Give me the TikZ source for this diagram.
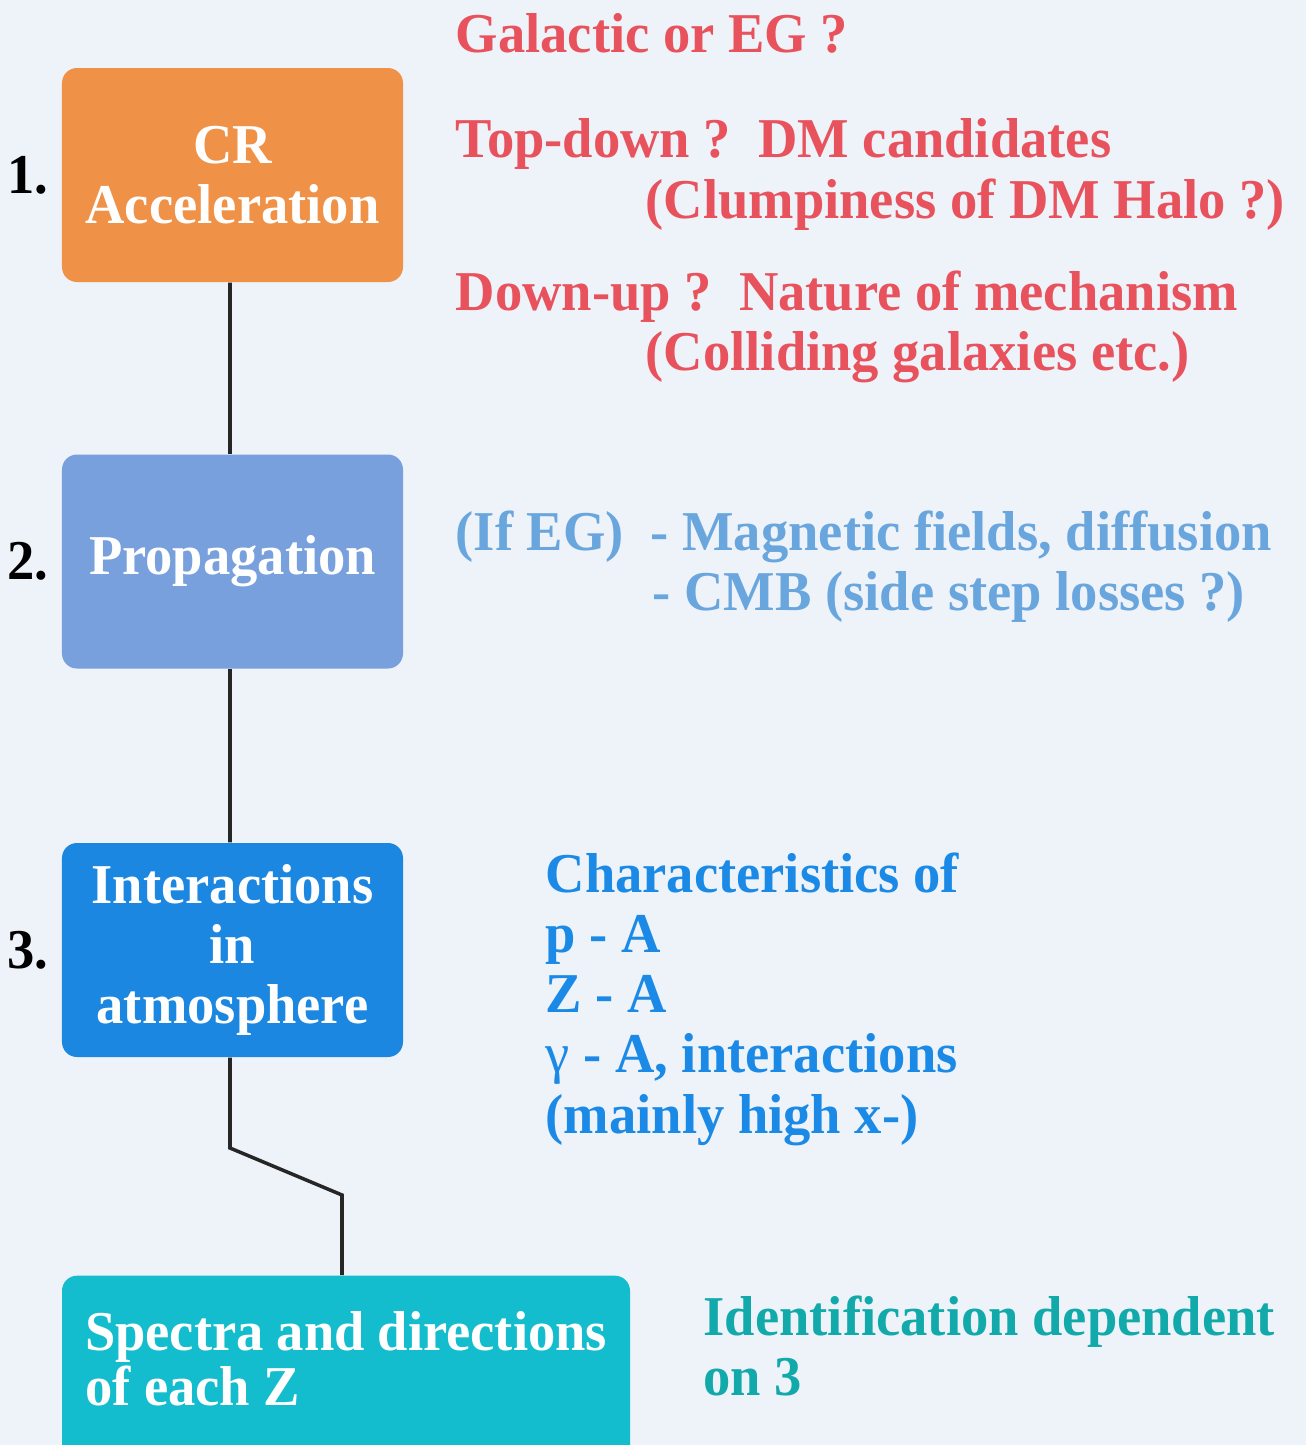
\documentclass[tikz,border=0pt]{standalone}
\usepackage{fontspec}
\setmainfont{Liberation Serif}[FakeStretch=0.97]
\usetikzlibrary{positioning}

\definecolor{bgcol}{HTML}{EEF2F9}
\definecolor{accorange}{HTML}{F09148}
\definecolor{propblue}{HTML}{78A0DC}
\definecolor{interblue}{HTML}{1C87E0}
\definecolor{speccyan}{HTML}{14BDCD}
\definecolor{notered}{HTML}{E8525C}
\definecolor{notelight}{HTML}{6AA6DE}
\definecolor{noteblue}{HTML}{1A8AE6}
\definecolor{noteteal}{HTML}{12A9AB}

\tikzset{
  stage/.style={rounded corners=0.15cm, minimum width=3.41cm, minimum height=2.14cm,
    inner sep=0pt, align=center, text=white,
    font=\bfseries\fontsize{16}{17}\selectfont},
  note/.style={anchor=base west, inner sep=0pt, font=\bfseries\fontsize{16}{17}\selectfont},
  stagenum/.style={inner sep=0pt, text=black, font=\bfseries\fontsize{16}{17}\selectfont},
  link/.style={draw=black!85, line width=1pt}
}

\begin{document}
\begin{tikzpicture}
    \useasboundingbox (0,0) rectangle (13.06,-14.45);
    \fill[bgcol] (0,0) rectangle (13.06,-14.45);
    \clip (0,0) rectangle (13.06,-14.45);
    % stages
    \node[stage, fill=accorange] (acc) at (2.325,-1.75) {CR\\Acceleration};
    \node[stage, fill=propblue] (prop) at (2.325,-5.615) {Propagation};
    \node[stage, fill=interblue] (inter) at (2.325,-9.50) {Interactions\\in\\atmosphere};
    \node[stage, fill=speccyan, anchor=north, minimum width=5.68cm, minimum height=2.3cm,
          text width=5.22cm, inner xsep=0.23cm, align=flush left, text depth=1.2cm,
          font=\bfseries\fontsize{16}{15.6}\selectfont] (spec) at (3.46,-12.75)
          {Spectra and directions\\of each Z};
    \node[stagenum, left=0.12cm of acc] (n_acc) {1.};
    \node[stagenum, left=0.12cm of prop] (n_prop) {2.};
    \node[stagenum, left=0.12cm of inter] (n_inter) {3.};
    % links
    \coordinate (k_a) at (2.30,-11.48);
    \coordinate (k_b) at (3.42,-11.95);
    \path[link]
    (acc.south -| 2.30,0) -- (prop.north -| 2.30,0)
    (prop.south -| 2.30,0) -- (inter.north -| 2.30,0)
    (inter.south -| k_a) -- (k_a) -- (k_b) -- (spec.north -| k_b)
    ; %end path
    % notes for 1.
    \node[note, text=notered] (n_gal) at (4.55,-0.52) {Galactic or EG ?};
    \node[note, text=notered] (n_top) at (4.55,-1.57) {Top-down ?~~DM candidates};
    \node[note, text=notered] (n_clump) at (6.45,-2.18) {(Clumpiness of DM Halo ?)};
    \node[note, text=notered] (n_down) at (4.55,-3.10) {Down-up ?~~Nature of mechanism};
    \node[note, text=notered] (n_coll) at (6.45,-3.70) {(Colliding galaxies etc.)};
    % notes for 2.
    \node[note, text=notelight] (n_ifeg) at (4.55,-5.50) {(If EG)};
    \node[note, text=notelight] (n_magn) at (6.50,-5.50) {- Magnetic fields, diffusion};
    \node[note, text=notelight] (n_cmb) at (6.52,-6.10) {- CMB (side step losses ?)};
    % notes for 3.
    \node[note, text=noteblue] (n_char) at (5.45,-8.92) {Characteristics of};
    \node[note, text=noteblue] (n_pa) at (5.45,-9.52) {p - A};
    \node[note, text=noteblue] (n_za) at (5.45,-10.12) {Z - A};
    \node[note, text=noteblue] (n_ga) at (5.45,-10.72) {{\mdseries γ} - A, interactions};
    \node[note, text=noteblue] (n_high) at (5.45,-11.33) {(mainly high x-)};
    % notes for spectra
    \node[note, text=noteteal] (n_ident) at (7.03,-13.35) {Identification dependent};
    \node[note, text=noteteal] (n_on) at (7.03,-13.95) {on 3};
\end{tikzpicture}
\end{document}
